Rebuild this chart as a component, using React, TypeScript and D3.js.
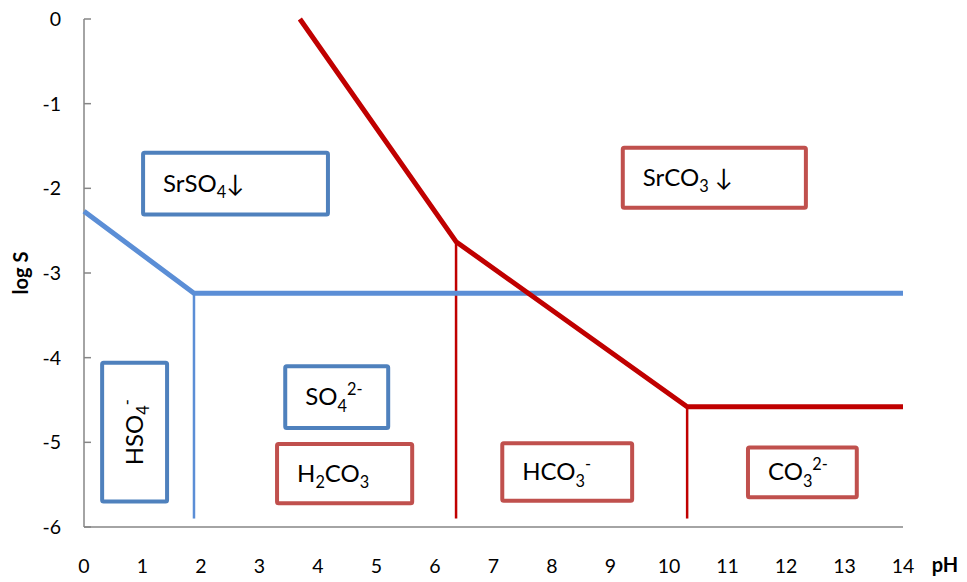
import React from "react";
import * as d3 from "d3";

const phTicks = d3.range(0, 15);
const logTicks = [0, -1, -2, -3, -4, -5, -6];
const sulfateBoundary: [number, number][] = [[0, -2.27], [1.88, -3.24], [14, -3.24]];
const carbonateBoundary: [number, number][] = [[3.69, 0], [6.36, -2.63], [10.31, -4.58], [14, -4.58]];
const sulfateDividers: [number, number][] = [[1.88, -3.24]];
const carbonateDividers: [number, number][] = [[6.36, -2.63], [10.31, -4.58]];
const dividerBottom = -5.9;

type Part = { t: string; k?: "sub" | "sup" };
const sulfateLabels: { parts: Part[]; x0: number; x1: number; y0: number; y1: number; rotate?: boolean }[] = [
  { parts: [{ t: "SrSO" }, { t: "4", k: "sub" }, { t: "↓" }], x0: 1.01, x1: 4.17, y0: -1.58, y1: -2.31 },
  { parts: [{ t: "HSO" }, { t: "4", k: "sub" }, { t: "-", k: "sup" }], x0: 0.31, x1: 1.42, y0: -4.06, y1: -5.7, rotate: true },
  { parts: [{ t: "SO" }, { t: "4", k: "sub" }, { t: "2-", k: "sup" }], x0: 3.44, x1: 5.2, y0: -4.1, y1: -4.83 },
];
const carbonateLabels: { parts: Part[]; x0: number; x1: number; y0: number; y1: number }[] = [
  { parts: [{ t: "SrCO" }, { t: "3", k: "sub" }, { t: " ↓" }], x0: 9.21, x1: 12.34, y0: -1.52, y1: -2.23 },
  { parts: [{ t: "H" }, { t: "2", k: "sub" }, { t: "CO" }, { t: "3", k: "sub" }], x0: 3.3, x1: 5.61, y0: -5.02, y1: -5.72 },
  { parts: [{ t: "HCO" }, { t: "3", k: "sub" }, { t: "-", k: "sup" }], x0: 7.15, x1: 9.37, y0: -5.01, y1: -5.69 },
  { parts: [{ t: "CO" }, { t: "3", k: "sub" }, { t: "2-", k: "sup" }], x0: 11.35, x1: 13.21, y0: -5.06, y1: -5.65 },
];

const W = 967, H = 582;
const FONT = "Lato, 'Open Sans', sans-serif";
const BLUE = "#5B8ED6";
const BLUE_BOX = "#4F81BD";
const RED = "#C00000";
const RED_BOX = "#C0504D";
const AXIS = "#868686";

function Rich({ parts, size }: { parts: Part[]; size: number }) {
  const out: React.ReactNode[] = [];
  let prev: string | undefined = undefined;
  parts.forEach((p, i) => {
    const shiftOf = (k?: string) => (k === "sub" ? size * 0.28 : k === "sup" ? -size * 0.42 : 0);
    const dy = shiftOf(p.k) - shiftOf(prev);
    out.push(
      <tspan key={i} dy={dy} fontSize={p.k ? size * 0.68 : size}>
        {p.t}
      </tspan>
    );
    prev = p.k;
  });
  return <>{out}</>;
}

export default function App() {
  const x = d3.scaleLinear().domain([0, 14]).range([84, 903]);
  const y = d3.scaleLinear().domain([0, -6]).range([19, 527]);
  const line = d3.line<[number, number]>().x((d) => x(d[0])).y((d) => y(d[1]));
  const fs = 24;

  const box = (l: any, color: string, i: number, rotate?: boolean) => {
    const bx = x(l.x0), by = y(l.y0), bw = x(l.x1) - x(l.x0), bh = y(l.y1) - y(l.y0);
    return (
      <g key={color + i}>
        <rect x={bx} y={by} width={bw} height={bh} fill="white" stroke={color} strokeWidth={4} rx={1.5} />
        {rotate ? (
          <text
            transform={`translate(${bx + bw / 2 + 8},${by + bh / 2}) rotate(-90)`}
            textAnchor="middle"
            fontFamily={FONT}
            fontSize={fs}
            fill="#000"
          >
            <Rich parts={l.parts} size={fs} />
          </text>
        ) : (
          <text x={bx + 20} y={by + bh / 2 + 8} fontFamily={FONT} fontSize={fs} fill="#000">
            <Rich parts={l.parts} size={fs} />
          </text>
        )}
      </g>
    );
  };

  return (
    <svg width={W} height={H} style={{ position: "absolute", left: 0, top: 0, background: "#fff" }}>
      {/* axes */}
      <line x1={x(0)} x2={x(0)} y1={y(0)} y2={y(-6)} stroke={AXIS} strokeWidth={1.5} />
      <line x1={x(0)} x2={x(14)} y1={y(-6)} y2={y(-6)} stroke={AXIS} strokeWidth={1.5} />
      {logTicks.map((t) => (
        <g key={t}>
          <line x1={x(0)} x2={x(0) + 7} y1={y(t)} y2={y(t)} stroke={AXIS} strokeWidth={1.5} />
          <text x={61} y={y(t) + 7} textAnchor="end" fontFamily={FONT} fontSize={19.5} fill="#000">
            {t}
          </text>
        </g>
      ))}
      {phTicks.map((t) => (
        <text key={t} x={x(t)} y={573} textAnchor="middle" fontFamily={FONT} fontSize={19.5} fill="#000">
          {t}
        </text>
      ))}
      <text x={945} y={572} textAnchor="middle" fontFamily={FONT} fontSize={20} fontWeight="bold">
        pH
      </text>
      <text transform={`translate(28,${y(-3)}) rotate(-90)`} textAnchor="middle" fontFamily={FONT} fontSize={20} fontWeight="bold">
        log S
      </text>

      {/* dividers */}
      {sulfateDividers.map((d, i) => (
        <line key={"sd" + i} x1={x(d[0])} x2={x(d[0])} y1={y(d[1])} y2={y(dividerBottom)} stroke={BLUE} strokeWidth={2.5} />
      ))}
      {carbonateDividers.map((d, i) => (
        <line key={"cd" + i} x1={x(d[0])} x2={x(d[0])} y1={y(d[1])} y2={y(dividerBottom)} stroke={RED} strokeWidth={2.5} />
      ))}

      {/* boundaries */}
      <path d={line(sulfateBoundary) || ""} fill="none" stroke={BLUE} strokeWidth={5} strokeLinejoin="round" />
      <path d={line(carbonateBoundary) || ""} fill="none" stroke={RED} strokeWidth={5} strokeLinejoin="round" />

      {/* labels */}
      {sulfateLabels.map((l, i) => box(l, BLUE_BOX, i, l.rotate))}
      {carbonateLabels.map((l, i) => box(l, RED_BOX, i))}
    </svg>
  );
}
